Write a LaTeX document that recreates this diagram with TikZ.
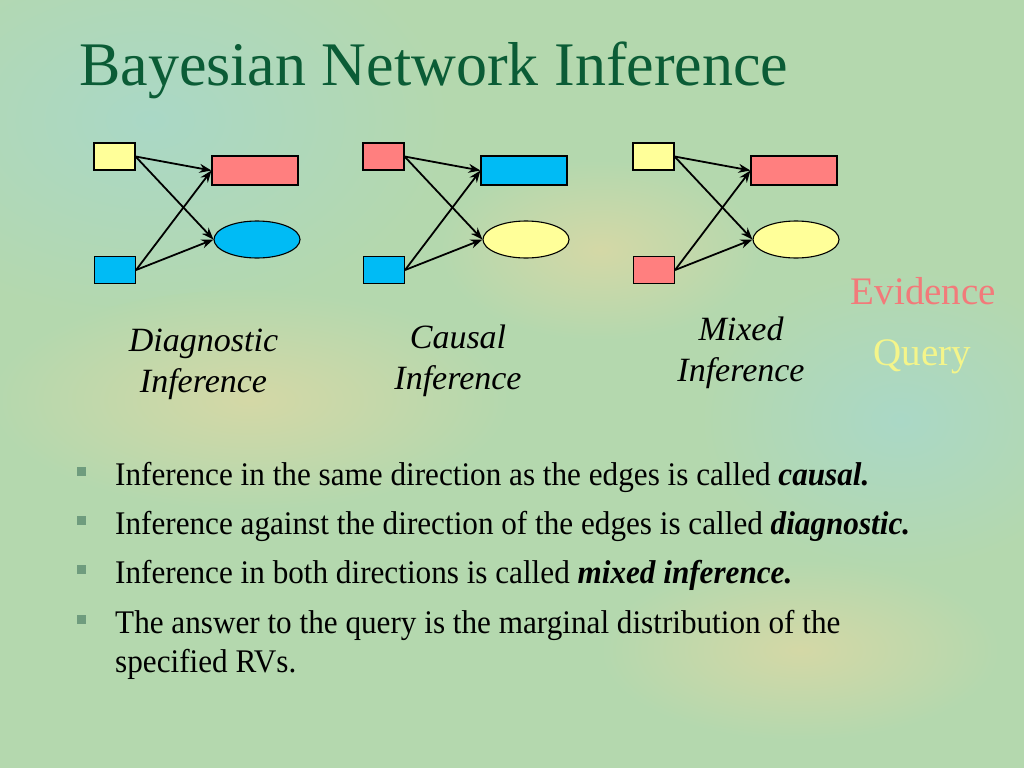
\documentclass[tikz,border=0pt]{standalone}
\usepackage{fontspec}
\setmainfont{Liberation Serif}
\newfontfamily\bnbody[FakeStretch=0.945]{Liberation Serif}
\usepackage{xcolor}
\usepackage{tikz}
\usetikzlibrary{arrows.meta,positioning,shapes.geometric}
\definecolor{bnbg}{HTML}{B4D8AE}
\definecolor{bntan}{HTML}{D4D8A6}
\definecolor{bnsky}{HTML}{AAD8C6}
\definecolor{bntitle}{HTML}{0B5C36}
\definecolor{bnyellow}{HTML}{FFFF99}
\definecolor{bnred}{HTML}{FF7F7F}
\definecolor{bnblue}{HTML}{00BBF5}
\definecolor{bnevid}{HTML}{F27A7A}
\definecolor{bnquery}{HTML}{F4F58A}
\definecolor{bnbullet}{HTML}{6F9C7E}

\tikzset{
  bnsmall/.style={draw=black,line width=1.1pt,minimum width=41pt,minimum height=27pt,inner sep=0pt},
  bnwide/.style={draw=black,line width=1.1pt,minimum width=86pt,minimum height=29pt,inner sep=0pt},
  bnoval/.style={ellipse,draw=black,line width=1.1pt,minimum width=86pt,minimum height=37pt,inner sep=0pt},
  bnedge/.style={line width=1.8pt,-{Stealth[length=12pt,width=9pt]}},
  bnlabel/.style={align=center,anchor=base,font=\fontsize{34}{41}\itshape\selectfont},
  bntext/.style={anchor=base west,inner sep=0pt,font=\fontsize{33}{39}\bnbody},
  bnmark/.style={fill=bnbullet,minimum size=9pt,inner sep=0pt}
}

\begin{document}
\begin{tikzpicture}[x=1pt,y=-1pt]
\useasboundingbox (0,0) rectangle (1024,768);
\fill[bnbg] (0,0) rectangle (1024,768);
% soft patches of the backdrop
\shade[inner color=bnsky,outer color=bnbg] (150,120) ellipse (300 and 200);
\shade[inner color=bnsky,outer color=bnbg] (900,420) ellipse (200 and 150);
\shade[inner color=bntan,outer color=bnbg] (250,400) ellipse (260 and 110);
\shade[inner color=bntan,outer color=bnbg] (600,250) ellipse (160 and 90);
\shade[inner color=bntan,outer color=bnbg] (800,650) ellipse (200 and 90);

\node[anchor=base west,inner sep=0pt,text=bntitle,font=\fontsize{62}{62}\selectfont] (title) at (79,85) {Bayesian Network Inference};

% diagnostic
\node[bnsmall,fill=bnyellow] (da) at (114.5,156.5) {};
\node[bnsmall,fill=bnblue] (db) at (115,270) {};
\node[bnwide,fill=bnred] (dc) at (255,170.5) {};
\node[bnoval,fill=bnblue] (dd) at (257,239.5) {};
\draw[bnedge] (da.east) -- (dc.west);
\draw[bnedge] (da.east) -- (dd.west);
\draw[bnedge] (db.east) -- (dc.west);
\draw[bnedge] (db.east) -- (dd.west);

% causal
\node[bnsmall,fill=bnred] (ca) at (383.5,156.5) {};
\node[bnsmall,fill=bnblue] (cb) at (384,270) {};
\node[bnwide,fill=bnblue] (cc) at (524,170.5) {};
\node[bnoval,fill=bnyellow] (cd) at (526,239.5) {};
\draw[bnedge] (ca.east) -- (cc.west);
\draw[bnedge] (ca.east) -- (cd.west);
\draw[bnedge] (cb.east) -- (cc.west);
\draw[bnedge] (cb.east) -- (cd.west);

% mixed
\node[bnsmall,fill=bnyellow] (ma) at (653.5,156.5) {};
\node[bnsmall,fill=bnred] (mb) at (654,270) {};
\node[bnwide,fill=bnred] (mc) at (794,170.5) {};
\node[bnoval,fill=bnyellow] (md) at (796,239.5) {};
\draw[bnedge] (ma.east) -- (mc.west);
\draw[bnedge] (ma.east) -- (md.west);
\draw[bnedge] (mb.east) -- (mc.west);
\draw[bnedge] (mb.east) -- (md.west);

\node[bnlabel] (dlab) at (203.5,392) {Diagnostic\\Inference};
\node[bnlabel] (clab) at (458,389) {Causal\\Inference};
\node[bnlabel] (mlab) at (741,381) {Mixed\\Inference};

\node[anchor=base,text=bnevid,font=\fontsize{39}{39}\selectfont] (evid) at (923.5,304) {Evidence};
\node[anchor=base,text=bnquery,font=\fontsize{39}{39}\selectfont] (query) at (922.5,365) {Query};

% bullet list
\node[bntext] (l1) at (115,485) {Inference in the same direction as the edges is called \textbf{\textit{causal.}}};
\node[bntext] (l2) at (115,534) {Inference against the direction of the edges is called \textbf{\textit{diagnostic.}}};
\node[bntext] (l3) at (115,583) {Inference in both directions is called \textbf{\textit{mixed inference.}}};
\node[bntext] (l4) at (115,633) {The answer to the query is the marginal distribution of the};
\node[bntext] (l5) at (115,672) {specified RVs.};
\node[bnmark] (b1) at (81.5,471.5) {};
\node[bnmark] (b2) at (81.5,520.5) {};
\node[bnmark] (b3) at (81.5,569.5) {};
\node[bnmark] (b4) at (81.5,619.5) {};
\end{tikzpicture}
\end{document}
